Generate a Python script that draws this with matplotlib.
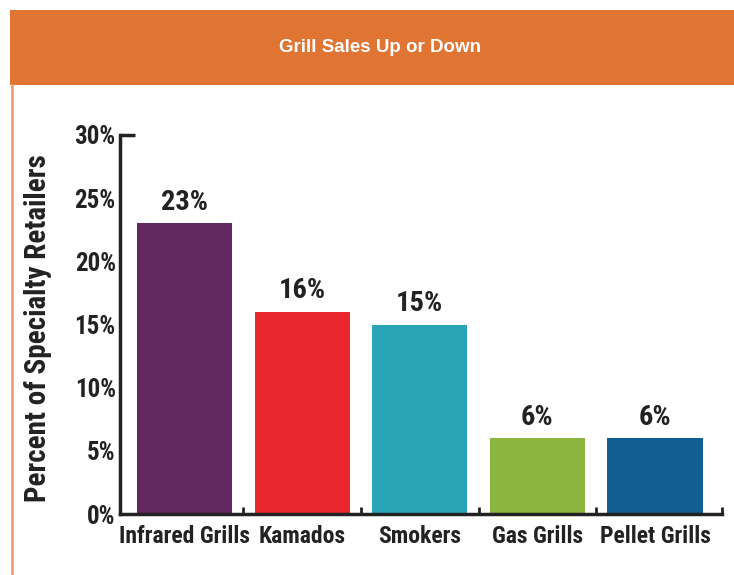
import matplotlib
matplotlib.use("Agg")
import matplotlib.pyplot as plt
from matplotlib.patches import Rectangle
from matplotlib.lines import Line2D

categories = ["Infrared Grills", "Kamados", "Smokers", "Gas Grills", "Pellet Grills"]
values = [23, 16, 15, 6, 6]
colors = ["#62285F", "#E8272E", "#2AA5B8", "#8BB53F", "#115E92"]
yticks = [0, 5, 10, 15, 20, 25, 30]
ytick_labels = [f"{v}%" for v in yticks]
title = "Grill Sales Up or Down"
ylabel = "Percent of Specialty Retailers"

W, H = 734, 575
fig = plt.figure(figsize=(W / 100, H / 100), dpi=100)
fig.patch.set_facecolor("white")

narrow = ["Roboto Condensed", "Barlow Condensed", "Archivo Narrow", "DejaVu Sans"]

# header band
fig.add_artist(Rectangle((10 / W, 1 - 85 / H), 1 - 10 / W, 75 / H,
                         transform=fig.transFigure, facecolor="#E07433",
                         edgecolor="none", zorder=0))
fig.text(380 / W, 1 - 48 / H, title, color="white", fontsize=13.5,
         fontweight="bold", family=["Liberation Sans", "DejaVu Sans"],
         ha="center", va="center")
# left border line
fig.add_artist(Line2D([12 / W, 12 / W], [0, 1 - 85 / H], transform=fig.transFigure,
                      color="#F0A070", lw=2))

ax = fig.add_axes([120 / W, 1 - 514 / H, (722 - 120) / W, (514 - 135) / H])
x = list(range(len(categories)))
bars = ax.bar(x, values, width=0.81, color=colors, zorder=2)
for xi, v in zip(x, values):
    ax.text(xi, v + 0.6, f"{v}%", ha="center", va="bottom", fontsize=20.5,
            fontweight="bold", family=narrow, color="#222222")

ax.set_xlim(-0.55, 4.57)
ax.set_ylim(0, 30)
ax.set_yticks(yticks)
ax.set_yticklabels(ytick_labels, family=narrow, fontweight="bold", fontsize=18,
                   color="#222222")
ax.set_xticks(x)
ax.set_xticklabels(categories, family=narrow, fontweight="bold", fontsize=17,
                   color="#222222")
ax.tick_params(axis="both", length=0, pad=3)
ax.tick_params(axis="x", pad=8)
ax.set_xticks([0.5, 1.5, 2.5, 3.5, 4.57], minor=True)
ax.tick_params(axis="x", which="minor", direction="in", length=5, width=2,
               color="#222222")
for s in ["top", "right"]:
    ax.spines[s].set_visible(False)
for s in ["left", "bottom"]:
    ax.spines[s].set_linewidth(2.5)
    ax.spines[s].set_color("#222222")
# top cap tick at 30%
ax.plot([-0.55, -0.42], [30, 30], color="#222222", lw=2.5, clip_on=False,
        solid_capstyle="butt")

ax.set_ylabel(ylabel, family=narrow, fontweight="bold", fontsize=21,
              color="#222222")
ax.yaxis.set_label_coords(-0.113, 0.49)

fig.savefig("out.png", dpi=100)
